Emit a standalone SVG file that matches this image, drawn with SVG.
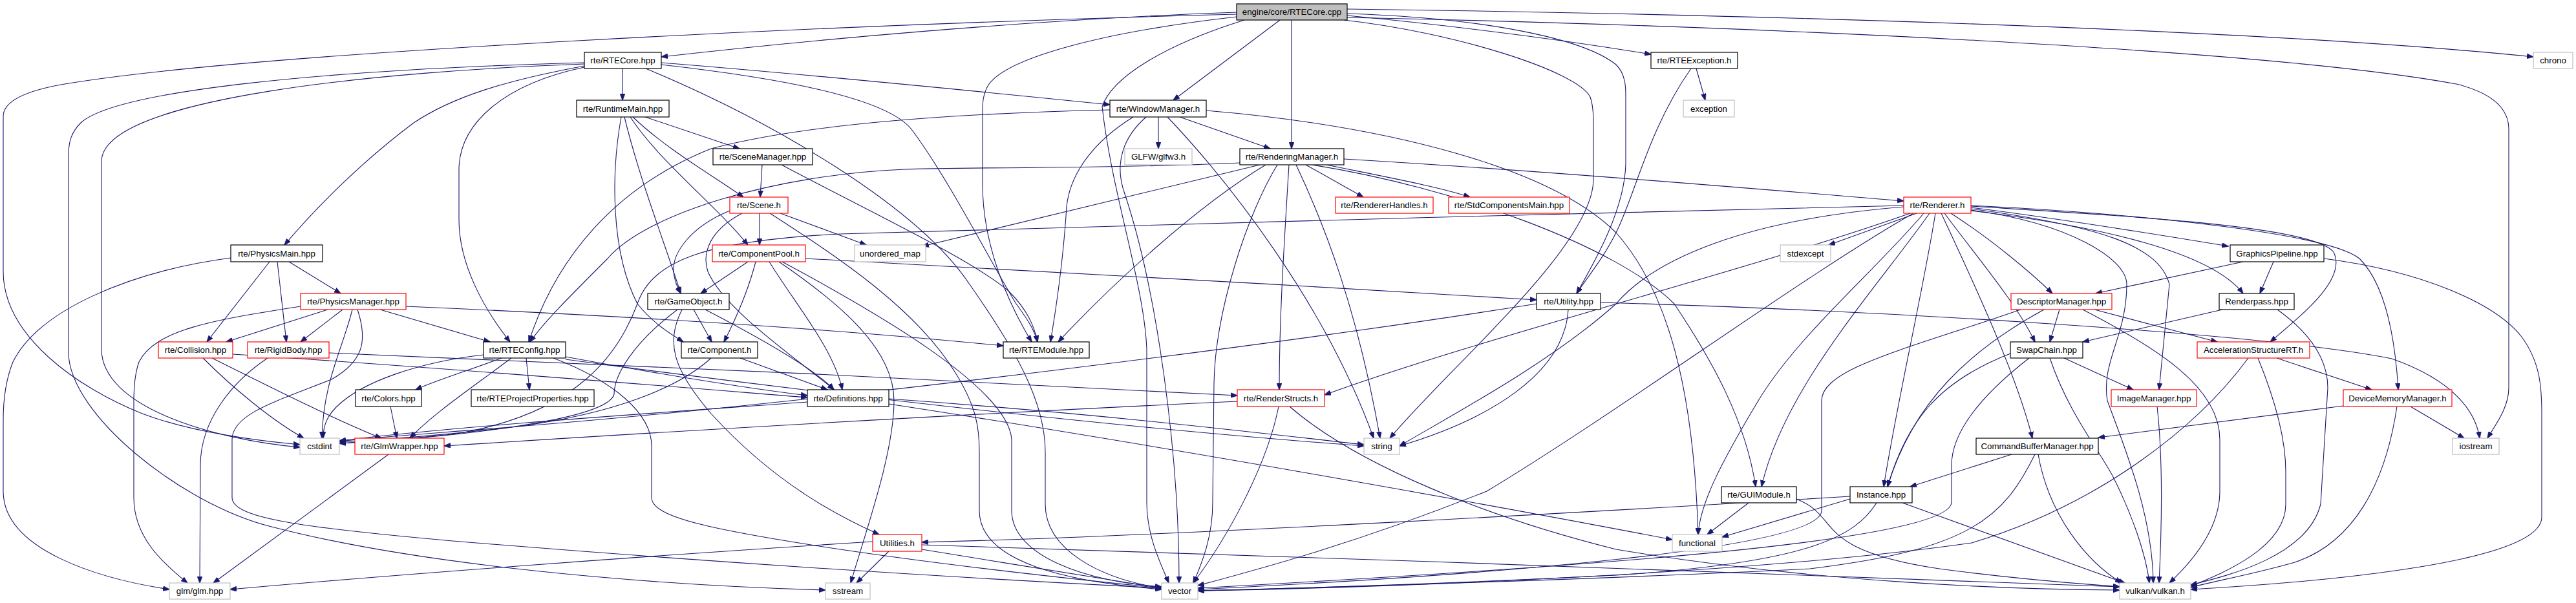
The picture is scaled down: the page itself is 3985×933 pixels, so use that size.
<svg xmlns="http://www.w3.org/2000/svg" width="3985" height="933" viewBox="0 0 3985 933">
<style>
.nb rect{fill:#fff;stroke:#000;stroke-width:1.2}
.nr rect{fill:#fff;stroke:#ff0000;stroke-width:1.2}
.ng rect{fill:#fff;stroke:#bfbfbf;stroke-width:1.2}
.root rect{fill:#bfbfbf;stroke:#000;stroke-width:1.2}
text{font-family:"Liberation Sans",Arial,sans-serif;font-size:13.3px;fill:#000;text-anchor:middle}
#edges path{fill:none;stroke:#191970;stroke-width:1.1;marker-end:url(#ah)}
</style>
<defs>
<marker id="ah" markerUnits="userSpaceOnUse" markerWidth="11" markerHeight="8" refX="10" refY="4" orient="auto">
<path d="M0,0 L11,4 L0,8 z" fill="#191970" stroke="#191970" stroke-width="0.5"/>
</marker>
</defs>
<rect width="3985" height="933" fill="#fff"/>
<g id="edges">
<path d="M1913,19 C1600,30 1250,62 1023,88"/>
<path d="M2084,14 C2700,22 3500,45 3919,88"/>
<path d="M2084,24 C2250,40 2420,62 2554,84"/>
<path d="M2084,27 C2700,40 3500,75 3800,130 C3860,145 3881,170 3881,200 L3881,600 C3881,630 3862,655 3848,678"/>
<path d="M1980,31 L1815,155"/>
<path d="M1998,31 L1998,230"/>
<path d="M2084,21 C2300,28 2450,60 2500,100 C2515,115 2515,135 2515,150 L2515,250 C2515,320 2470,400 2439,454"/>
<path d="M2079,31 C2250,50 2440,110 2460,150 C2465,165 2465,180 2465,200 L2465,277 C2465,380 2250,560 2150,678"/>
<path d="M1913,22 C1300,38 400,80 100,130 C30,142 5,160 5,180 L5,420 C5,520 120,600 220,640 C300,670 400,682 464,688"/>
<path d="M1913,26 C1700,50 1560,90 1530,130 C1520,145 1520,160 1520,175 L1520,285 C1520,380 1560,470 1596,529"/>
<path d="M1925,31 C1800,70 1720,120 1705,165 C1720,300 1770,440 1774,540 L1774,777 C1774,830 1795,870 1808,902"/>
<path d="M963,106 L963,155"/>
<path d="M1023,97 C1250,115 1500,140 1717,162"/>
<path d="M904,102 C780,125 700,150 640,190 C560,250 490,320 440,379"/>
<path d="M904,104 C780,130 712,190 710,260 L710,340 C710,410 750,480 789,529"/>
<path d="M904,99 C600,110 157,150 157,250 L157,540 C157,630 330,680 464,692"/>
<path d="M904,97 C500,108 180,140 125,190 C110,205 106,220 106,240 L106,545 C106,640 280,780 420,815 C650,875 1000,905 1277,913"/>
<path d="M1023,100 C1200,120 1370,150 1410,200 C1470,280 1540,420 1572,470 C1590,495 1600,510 1605,529"/>
<path d="M999,106 C1200,190 1420,320 1500,440 C1570,540 1617,620 1617,700 L1617,780 C1617,850 1700,895 1797,910"/>
<path d="M998,181 L1144,230"/>
<path d="M979,181 C1030,230 1100,270 1150,305"/>
<path d="M975,181 C1020,250 1110,320 1157,379"/>
<path d="M966,181 C990,280 1030,380 1053,454"/>
<path d="M961,181 C945,270 945,390 986,470 C1010,500 1035,515 1057,529"/>
<path d="M1179,255 L1176,305"/>
<path d="M1209,255 C1350,330 1500,400 1560,450 C1590,480 1600,505 1605,529"/>
<path d="M1175,330 L1175,379"/>
<path d="M1207,330 L1340,379"/>
<path d="M1129,326 C1070,350 1040,390 1042,420 C1043,435 1048,445 1053,454"/>
<path d="M1148,330 C1100,355 1085,390 1095,420 C1120,480 1240,560 1290,603"/>
<path d="M1191,330 C1300,400 1420,480 1480,580 C1510,630 1515,660 1515,700 L1515,790 C1515,870 1650,900 1797,912"/>
<path d="M1157,405 L1084,454"/>
<path d="M1169,405 C1160,440 1145,480 1120,529"/>
<path d="M1190,405 C1230,470 1290,540 1303,603"/>
<path d="M1246,400 C1500,415 2000,440 2377,464"/>
<path d="M1205,405 C1300,470 1383,540 1383,620 C1383,700 1340,820 1316,902"/>
<path d="M1210,405 C1350,480 1560,600 1565,680 L1565,790 C1565,860 1680,900 1797,908"/>
<path d="M1073,479 L1101,529"/>
<path d="M1091,479 C1170,520 1260,570 1290,603"/>
<path d="M1048,479 C980,530 950,580 950,610 C940,650 700,677 525,686"/>
<path d="M1055,479 C1030,530 1040,570 1100,640 C1200,750 1300,800 1360,827"/>
<path d="M1145,554 L1280,603"/>
<path d="M1100,554 C1050,600 950,640 800,660 C700,672 600,680 525,684"/>
<path d="M447,405 L527,454"/>
<path d="M417,405 L320,529"/>
<path d="M429,405 L443,529"/>
<path d="M357,399 C200,420 60,480 20,560 C8,590 5,620 5,650 L5,760 C5,850 150,895 262,912"/>
<path d="M507,479 L350,529"/>
<path d="M530,479 L465,529"/>
<path d="M465,474 C330,495 240,510 215,560 C208,580 207,600 207,620 L207,770 C207,830 250,870 290,902"/>
<path d="M545,479 C530,540 500,590 498,678"/>
<path d="M553,479 C570,530 560,560 513,587 C430,620 359,640 359,680 L359,770 C360,800 450,815 700,837 C1100,870 1500,895 1797,910"/>
<path d="M588,479 L758,529"/>
<path d="M628,474 C1000,490 1300,510 1552,535"/>
<path d="M314,554 C360,600 420,650 470,678"/>
<path d="M328,554 C420,600 520,650 590,678"/>
<path d="M360,548 C700,570 1000,595 1249,615"/>
<path d="M414,554 C360,590 310,650 310,720 L309,902"/>
<path d="M509,546 C900,560 1500,590 1914,612"/>
<path d="M814,554 L819,603"/>
<path d="M875,552 C1000,575 1150,600 1249,612"/>
<path d="M776,554 C720,575 670,590 643,603"/>
<path d="M791,554 C730,600 670,640 634,678"/>
<path d="M748,549 C650,560 560,590 520,630 C505,645 500,660 500,678"/>
<path d="M856,554 C950,590 1008,640 1008,690 L1008,770 C1008,800 1100,820 1300,850 C1500,880 1700,900 1797,910"/>
<path d="M875,556 C1200,600 1700,660 2110,690"/>
<path d="M604,629 L614,678"/>
<path d="M601,703 L330,902"/>
<path d="M1249,622 C1000,640 700,660 525,682"/>
<path d="M1375,617 C1700,640 1950,670 2110,688"/>
<path d="M1375,625 C1800,690 2300,780 2587,835"/>
<path d="M1978,629 C1960,720 1900,830 1846,902"/>
<path d="M1995,629 C2100,720 2300,800 2500,850 C2800,900 3100,912 3279,913"/>
<path d="M1914,621 C1500,640 1000,670 687,690"/>
<path d="M2426,479 C2420,580 2300,650 2165,690"/>
<path d="M2377,470 C2000,530 1300,620 800,660 C650,672 560,678 525,683"/>
<path d="M2476,468 C2900,480 3500,515 3700,555 C3800,590 3830,640 3836,678"/>
<path d="M1792,181 L1792,230"/>
<path d="M1825,181 L1965,230"/>
<path d="M1753,181 C1690,220 1655,270 1650,320 C1645,400 1635,470 1625,529"/>
<path d="M1717,170 C1500,175 1250,190 1100,230 C950,290 860,400 818,529"/>
<path d="M1773,181 C1740,210 1722,250 1740,300 C1790,450 1824,700 1824,902"/>
<path d="M1806,181 C1900,280 2050,470 2125,678"/>
<path d="M1866,171 C2150,195 2400,260 2500,360 C2580,450 2620,600 2627,827"/>
<path d="M2020,255 L2109,305"/>
<path d="M2052,255 C2150,275 2230,290 2274,305"/>
<path d="M2079,246 C2400,265 2750,295 2945,311"/>
<path d="M1918,252 C1700,262 1500,258 1400,262 C1200,270 1000,330 940,400 C880,460 840,500 820,529"/>
<path d="M1949,255 L1427,381"/>
<path d="M1958,255 C1850,320 1720,440 1637,529"/>
<path d="M1976,255 C1930,330 1880,480 1878,593 L1876,777 C1876,830 1860,870 1846,902"/>
<path d="M1994,255 C1985,400 1979,500 1979,603"/>
<path d="M2005,255 C2050,350 2100,480 2135,678"/>
<path d="M2030,255 C2250,290 2500,380 2590,470 C2650,560 2700,650 2716,753"/>
<path d="M2965,330 L2829,379"/>
<path d="M2945,320 C2700,340 2560,400 2500,470 C2400,560 2250,640 2165,690"/>
<path d="M2960,330 C2800,420 2500,640 2300,760 C2100,840 1950,880 1853,906"/>
<path d="M2955,330 C2700,420 2300,520 2049,611"/>
<path d="M2945,318 C2500,330 1600,350 1300,362 C1100,372 1010,400 986,470 C960,540 900,640 700,672 C620,680 560,684 525,686"/>
<path d="M2976,330 C2900,420 2780,520 2720,620 C2660,720 2630,780 2627,827"/>
<path d="M2985,330 C2900,450 2760,600 2725,753"/>
<path d="M2994,330 C2975,450 2935,620 2914,753"/>
<path d="M3003,330 C3050,430 3120,580 3144,678"/>
<path d="M3008,330 C3060,400 3120,470 3148,529"/>
<path d="M3018,330 C3080,370 3140,420 3175,454"/>
<path d="M3049,321 C3200,340 3350,365 3447,381"/>
<path d="M3049,326 C3250,350 3420,390 3470,454"/>
<path d="M3049,323 C3250,350 3340,380 3356,440 L3340,603"/>
<path d="M3049,325 C3200,345 3290,400 3290,440 C3290,520 3250,560 3260,620 C3290,700 3330,800 3331,902"/>
<path d="M3049,318 C3300,330 3600,360 3650,400 C3690,440 3705,520 3710,603"/>
<path d="M3049,319 C3300,335 3580,350 3610,390 C3630,430 3570,480 3512,529"/>
<path d="M3186,479 L3171,529"/>
<path d="M3162,479 C3050,540 2960,620 2920,753"/>
<path d="M3126,479 C2950,540 2818,570 2818,620 L2818,790 C2818,850 2300,890 1853,912"/>
<path d="M3240,479 L3430,529"/>
<path d="M3222,479 C3340,540 3434,600 3434,680 L3434,760 C3434,820 3390,870 3356,902"/>
<path d="M3517,405 L3496,454"/>
<path d="M3470,405 L3242,454"/>
<path d="M3595,400 C3750,420 3860,470 3900,520 C3930,560 3932,600 3932,640 L3932,800 C3932,870 3600,900 3389,912"/>
<path d="M3438,479 L3222,529"/>
<path d="M3523,479 C3580,520 3601,560 3601,600 L3590,780 C3570,860 3450,890 3389,905"/>
<path d="M3110,547 C3000,590 2950,650 2920,753"/>
<path d="M3139,554 C3080,600 3019,660 3019,720 L3019,777 C3019,840 2400,880 1853,910"/>
<path d="M3193,554 L3300,603"/>
<path d="M3171,554 C3200,640 3250,700 3270,740 C3300,800 3320,860 3325,902"/>
<path d="M3337,629 C3345,700 3345,800 3340,902"/>
<path d="M3112,703 L2955,753"/>
<path d="M3148,703 C3100,800 3050,850 2800,880 C2400,900 2000,910 1853,914"/>
<path d="M3153,703 C3170,800 3230,870 3282,902"/>
<path d="M2862,772 L2664,831"/>
<path d="M2862,768 C2500,790 1800,830 1426,839"/>
<path d="M2903,778 C2870,830 2800,870 2500,890 C2200,905 1950,912 1853,914"/>
<path d="M2943,778 L3287,902"/>
<path d="M2705,778 L2641,827"/>
<path d="M2779,772 C2850,800 2800,850 3000,880 C3150,900 3250,905 3279,908"/>
<path d="M3522,554 L3669,603"/>
<path d="M3478,554 C3400,660 3250,780 3050,840 C2700,890 2100,910 1853,914"/>
<path d="M3493,554 C3520,620 3536,680 3536,730 L3536,780 C3536,850 3430,890 3389,907"/>
<path d="M3729,629 L3812,678"/>
<path d="M3708,629 C3690,750 3640,840 3550,870 C3480,890 3420,900 3389,909"/>
<path d="M3625,628 L3246,677"/>
<path d="M1350,838 C1000,860 600,890 356,912"/>
<path d="M1375,853 L1325,902"/>
<path d="M1426,850 C1550,870 1700,895 1797,910"/>
<path d="M1426,843 C2000,860 2800,890 3279,908"/>
<path d="M2624,106 L2638,155"/>
<path d="M2616,106 C2550,200 2530,300 2500,360 C2480,400 2455,430 2439,454"/>
</g>
<g id="n0" class="root"><rect x="1913" y="6" width="171" height="25"/><text x="1998.5" y="23">engine/core/RTECore.cpp</text></g>
<g id="n1" class="nb"><rect x="904" y="81" width="119" height="25"/><text x="963.5" y="98">rte/RTECore.hpp</text></g>
<g id="n2" class="nb"><rect x="2554" y="81" width="134" height="25"/><text x="2621" y="98">rte/RTEException.h</text></g>
<g id="n3" class="ng"><rect x="3919" y="81" width="61" height="25"/><text x="3949.5" y="98">chrono</text></g>
<g id="n4" class="nb"><rect x="892" y="155" width="143" height="26"/><text x="963.5" y="173">rte/RuntimeMain.hpp</text></g>
<g id="n5" class="nb"><rect x="1717" y="155" width="149" height="26"/><text x="1791.5" y="173">rte/WindowManager.h</text></g>
<g id="n6" class="ng"><rect x="2604" y="155" width="79" height="26"/><text x="2643.5" y="173">exception</text></g>
<g id="n7" class="nb"><rect x="1103" y="230" width="154" height="25"/><text x="1180" y="247">rte/SceneManager.hpp</text></g>
<g id="n8" class="ng"><rect x="1740" y="230" width="104" height="25"/><text x="1792" y="247">GLFW/glfw3.h</text></g>
<g id="n9" class="nb"><rect x="1918" y="230" width="161" height="25"/><text x="1998.5" y="247">rte/RenderingManager.h</text></g>
<g id="n10" class="nr"><rect x="1129" y="305" width="90" height="25"/><text x="1174" y="322">rte/Scene.h</text></g>
<g id="n11" class="nr"><rect x="2066" y="305" width="151" height="25"/><text x="2141.5" y="322">rte/RendererHandles.h</text></g>
<g id="n12" class="nr"><rect x="2241" y="305" width="187" height="25"/><text x="2334.5" y="322">rte/StdComponentsMain.hpp</text></g>
<g id="n13" class="nr"><rect x="2945" y="305" width="104" height="25"/><text x="2997" y="322">rte/Renderer.h</text></g>
<g id="n14" class="nb"><rect x="357" y="379" width="142" height="26"/><text x="428" y="397">rte/PhysicsMain.hpp</text></g>
<g id="n15" class="nr"><rect x="1102" y="379" width="144" height="26"/><text x="1174" y="397">rte/ComponentPool.h</text></g>
<g id="n16" class="ng"><rect x="1322" y="379" width="110" height="26"/><text x="1377" y="397">unordered_map</text></g>
<g id="n17" class="ng"><rect x="2754" y="379" width="78" height="26"/><text x="2793" y="397">stdexcept</text></g>
<g id="n18" class="nb"><rect x="3450" y="379" width="145" height="26"/><text x="3522.5" y="397">GraphicsPipeline.hpp</text></g>
<g id="n19" class="nr"><rect x="465" y="454" width="163" height="25"/><text x="546.5" y="471">rte/PhysicsManager.hpp</text></g>
<g id="n20" class="nb"><rect x="1002" y="454" width="126" height="25"/><text x="1065" y="471">rte/GameObject.h</text></g>
<g id="n21" class="nb"><rect x="2377" y="454" width="99" height="25"/><text x="2426.5" y="471">rte/Utility.hpp</text></g>
<g id="n22" class="nr"><rect x="3111" y="454" width="156" height="25"/><text x="3189" y="471">DescriptorManager.hpp</text></g>
<g id="n23" class="nb"><rect x="3433" y="454" width="116" height="25"/><text x="3491" y="471">Renderpass.hpp</text></g>
<g id="n24" class="nr"><rect x="245" y="529" width="115" height="25"/><text x="302.5" y="546">rte/Collision.hpp</text></g>
<g id="n25" class="nr"><rect x="383" y="529" width="126" height="25"/><text x="446" y="546">rte/RigidBody.hpp</text></g>
<g id="n26" class="nb"><rect x="748" y="529" width="127" height="25"/><text x="811.5" y="546">rte/RTEConfig.hpp</text></g>
<g id="n27" class="nb"><rect x="1054" y="529" width="118" height="25"/><text x="1113" y="546">rte/Component.h</text></g>
<g id="n28" class="nb"><rect x="1552" y="529" width="133" height="25"/><text x="1618.5" y="546">rte/RTEModule.hpp</text></g>
<g id="n29" class="nb"><rect x="3110" y="529" width="112" height="25"/><text x="3166" y="546">SwapChain.hpp</text></g>
<g id="n30" class="nr"><rect x="3399" y="529" width="174" height="25"/><text x="3486" y="546">AccelerationStructureRT.h</text></g>
<g id="n31" class="nb"><rect x="550" y="603" width="102" height="26"/><text x="601" y="621">rte/Colors.hpp</text></g>
<g id="n32" class="nb"><rect x="729" y="603" width="190" height="26"/><text x="824" y="621">rte/RTEProjectProperties.hpp</text></g>
<g id="n33" class="nb"><rect x="1249" y="603" width="126" height="26"/><text x="1312" y="621">rte/Definitions.hpp</text></g>
<g id="n34" class="nr"><rect x="1914" y="603" width="135" height="26"/><text x="1981.5" y="621">rte/RenderStructs.h</text></g>
<g id="n35" class="nr"><rect x="3266" y="603" width="132" height="26"/><text x="3332" y="621">ImageManager.hpp</text></g>
<g id="n36" class="nr"><rect x="3625" y="603" width="168" height="26"/><text x="3709" y="621">DeviceMemoryManager.h</text></g>
<g id="n37" class="ng"><rect x="464" y="678" width="61" height="25"/><text x="494.5" y="695">cstdint</text></g>
<g id="n38" class="nr"><rect x="549" y="678" width="138" height="25"/><text x="618" y="695">rte/GlmWrapper.hpp</text></g>
<g id="n39" class="ng"><rect x="2110" y="678" width="55" height="25"/><text x="2137.5" y="695">string</text></g>
<g id="n40" class="nb"><rect x="3057" y="678" width="189" height="25"/><text x="3151.5" y="695">CommandBufferManager.hpp</text></g>
<g id="n41" class="ng"><rect x="3794" y="678" width="72" height="25"/><text x="3830" y="695">iostream</text></g>
<g id="n42" class="nb"><rect x="2663" y="753" width="116" height="25"/><text x="2721" y="770">rte/GUIModule.h</text></g>
<g id="n43" class="nb"><rect x="2862" y="753" width="96" height="25"/><text x="2910" y="770">Instance.hpp</text></g>
<g id="n44" class="nr"><rect x="1350" y="827" width="76" height="26"/><text x="1388" y="845">Utilities.h</text></g>
<g id="n45" class="ng"><rect x="2587" y="827" width="77" height="26"/><text x="2625.5" y="845">functional</text></g>
<g id="n46" class="ng"><rect x="262" y="902" width="94" height="25"/><text x="309" y="919">glm/glm.hpp</text></g>
<g id="n47" class="ng"><rect x="1277" y="902" width="69" height="25"/><text x="1311.5" y="919">sstream</text></g>
<g id="n48" class="ng"><rect x="1797" y="902" width="56" height="25"/><text x="1825" y="919">vector</text></g>
<g id="n49" class="ng"><rect x="3279" y="902" width="110" height="25"/><text x="3334" y="919">vulkan/vulkan.h</text></g>
</svg>
